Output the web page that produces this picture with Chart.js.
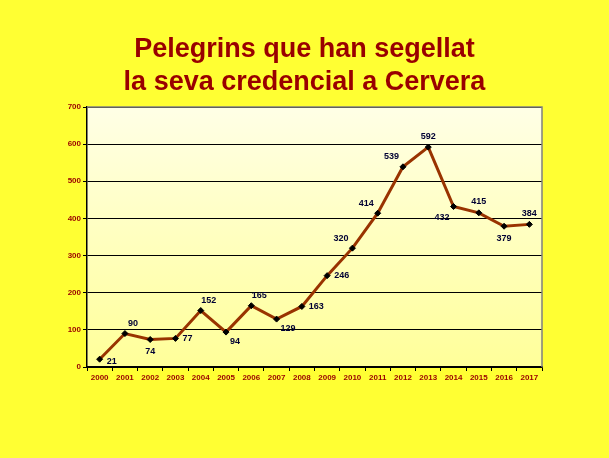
<!DOCTYPE html>
<html>
<head>
<meta charset="utf-8">
<script src="https://cdn.jsdelivr.net/npm/chart.js@4/dist/chart.umd.min.js"></script>
<style>
  html, body { margin: 0; padding: 0; background: #ffff33; }
  #wrap { width: 609px; height: 458px; }
</style>
</head>
<body>
<div id="wrap"><canvas id="chart" width="609" height="458"></canvas></div>
<script>
const years = ['2000','2001','2002','2003','2004','2005','2006','2007','2008','2009','2010','2011','2012','2013','2014','2015','2016','2017'];
const pilgrims = [21, 90, 74, 77, 152, 94, 165, 129, 163, 246, 320, 414, 539, 592, 432, 415, 379, 384];
const yTicks = [0, 100, 200, 300, 400, 500, 600, 700];
const titleLines = ['Pelegrins que han segellat', 'la seva credencial a Cervera'];
// where each value label sits relative to its point
const labelSide = ['r0','ar','b','r','ar','rb','ar','rb','r','r','al','al','al','a','bl','a','b','a'];

const plotBackground = {
  id: 'plotBackground',
  beforeDraw(chart) {
    const { ctx, chartArea: a } = chart;
    const g = ctx.createLinearGradient(0, a.top, 0, a.bottom);
    g.addColorStop(0, '#ffffe6');
    g.addColorStop(1, '#ffff99');
    ctx.save();
    ctx.fillStyle = g;
    ctx.fillRect(a.left, a.top, a.right - a.left, a.bottom - a.top);
    // title, centred on the whole page
    ctx.fillStyle = '#990000';
    ctx.font = 'bold 27px "Liberation Sans", Arial, sans-serif';
    ctx.textAlign = 'center';
    ctx.textBaseline = 'middle';
    ctx.fillText(titleLines[0], chart.width / 2, 50);
    ctx.fillText(titleLines[1], chart.width / 2, 83);
    ctx.restore();
  },
  afterDatasetsDraw(chart) {
    const { ctx, chartArea: a } = chart;
    ctx.save();
    ctx.strokeStyle = '#808080';
    ctx.lineWidth = 1.5;
    ctx.beginPath();
    ctx.moveTo(a.left, a.top);
    ctx.lineTo(a.right, a.top);
    ctx.lineTo(a.right, a.bottom);
    ctx.stroke();
    ctx.restore();
  }
};

const valueLabels = {
  id: 'valueLabels',
  afterDatasetsDraw(chart) {
    const { ctx } = chart;
    const meta = chart.getDatasetMeta(0);
    ctx.save();
    ctx.font = 'bold 9px "Liberation Sans", Arial, sans-serif';
    ctx.fillStyle = '#000033';
    meta.data.forEach((pt, i) => {
      const side = labelSide[i];
      let x = pt.x, y = pt.y;
      ctx.textAlign = 'center';
      ctx.textBaseline = 'middle';
      if (side === 'a') { y -= 11; }
      else if (side === 'b') { y += 12; }
      else if (side === 'r') { x += 7; ctx.textAlign = 'left'; }
      else if (side === 'r0') { x += 7; y += 2; ctx.textAlign = 'left'; }
      else if (side === 'rb') { x += 4; y += 9; ctx.textAlign = 'left'; }
      else if (side === 'ar') { x += 8; y -= 10; }
      else if (side === 'al') { x -= 4; y -= 10; ctx.textAlign = 'right'; }
      else if (side === 'bl') { x -= 4; y += 11; ctx.textAlign = 'right'; }
      ctx.fillText(pilgrims[i], x, y);
    });
    ctx.restore();
  }
};

const tickFont = { family: '"Liberation Sans", Arial, sans-serif', size: 8, weight: 'bold' };

new Chart(document.getElementById('chart'), {
  type: 'line',
  data: {
    labels: years,
    datasets: [{
      data: pilgrims,
      borderColor: '#993300',
      borderWidth: 3,
      pointStyle: 'rectRot',
      pointRadius: 3,
      pointBackgroundColor: '#000000',
      pointBorderColor: '#000000',
      pointBorderWidth: 1,
      tension: 0
    }]
  },
  options: {
    responsive: false,
    animation: false,
    layout: { padding: { left: 0, right: 67, top: 107, bottom: 71 } },
    plugins: {
      legend: { display: false },
      tooltip: { enabled: false },
      title: { display: false }
    },
    scales: {
      x: {
        offset: true,
        grid: { display: true, drawOnChartArea: false, offset: true, color: '#000000', tickLength: 4, lineWidth: 1 },
        border: { color: '#000000', width: 1.5 },
        ticks: { color: '#990000', font: tickFont, maxRotation: 0, autoSkip: false, padding: 2 },
        afterFit(scale) { scale.height = 20; }
      },
      y: {
        min: 0,
        max: 700,
        afterBuildTicks(scale) { scale.ticks = yTicks.map(v => ({ value: v })); },
        grid: { color: '#000000', lineWidth: 1, tickLength: 4, drawTicks: true },
        border: { color: '#000000', width: 1.5 },
        ticks: { color: '#990000', font: tickFont, padding: 2 },
        afterFit(scale) { scale.width = 87; }
      }
    }
  },
  plugins: [plotBackground, valueLabels]
});
</script>
</body>
</html>
